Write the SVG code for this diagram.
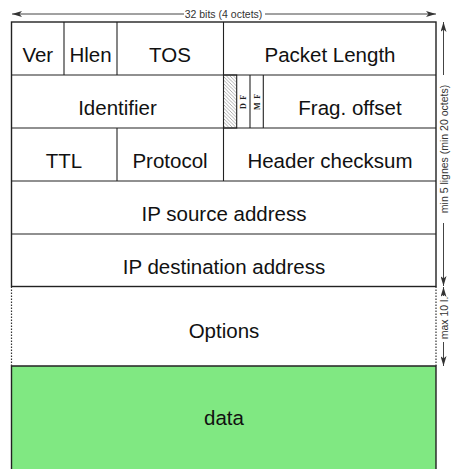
<svg xmlns="http://www.w3.org/2000/svg" width="455" height="469" viewBox="0 0 455 469">
  <defs>
    <style>
      .lbl { font-family: "Liberation Sans", Arial, sans-serif; font-size: 20.5px; fill: #111; text-anchor: middle; }
      .note { font-family: "Liberation Sans", Arial, sans-serif; font-size: 10.5px; fill: #333; text-anchor: middle; }
      .flag { font-family: "Liberation Serif", "Times New Roman", serif; font-size: 8px; font-weight: bold; fill: #222; text-anchor: middle; letter-spacing: 0.8px; }
      .frame { stroke: #222; stroke-width: 1.4; fill: none; }
      .cell { stroke: #222; stroke-width: 1.1; fill: none; }
      .hatched { stroke: #222; stroke-width: 1.1; fill: url(#hatch); }
      .dotted { stroke: #333; stroke-width: 1.2; stroke-dasharray: 1.5 1.5; fill: none; }
      .dim { stroke: #444; stroke-width: 1; fill: none; }
    </style>
    <marker id="ah" viewBox="0 0 10 6" refX="10" refY="3" markerWidth="10" markerHeight="6" markerUnits="userSpaceOnUse" orient="auto">
      <path d="M0,0 L10,3 L0,6 L2.5,3 Z" fill="#333"/>
    </marker>
    <pattern id="hatch" patternUnits="userSpaceOnUse" width="3.5" height="3.5">
      <path d="M0,0 L3.5,3.5 M-1,2.5 L1,4.5 M2.5,-1 L4.5,1" stroke="#777" stroke-width="0.6"/>
    </pattern>
  </defs>

  <!-- connectors: dimension arrows -->
  <g id="connectors">
    <line class="dim" x1="184" y1="14" x2="12" y2="14" marker-end="url(#ah)"/>
    <line class="dim" x1="265" y1="14" x2="436" y2="14" marker-end="url(#ah)"/>
    <line class="dim" x1="443.5" y1="75" x2="443.5" y2="22" marker-end="url(#ah)"/>
    <line class="dim" x1="443.5" y1="223" x2="443.5" y2="286" marker-end="url(#ah)"/>
    <line class="dim" x1="443.5" y1="296" x2="443.5" y2="287" marker-end="url(#ah)"/>
    <line class="dim" x1="443.5" y1="342" x2="443.5" y2="366" marker-end="url(#ah)"/>
  </g>

  <g id="width-label">
    <text class="note" x="223.5" y="18">32 bits (4 octets)</text>
  </g>
  <g id="height-labels">
    <text class="note" transform="translate(447.5,149) rotate(-90)">min 5 lignes (min 20 octets)</text>
    <text class="note" transform="translate(447.5,318) rotate(-90)">max 10 l.</text>
  </g>

  <!-- data block -->
  <g id="data">
    <path d="M11.5,475 V366 H436 V475" fill="#80e882" stroke="#222" stroke-width="1.4"/>
    <text class="lbl" x="224" y="425">data</text>
  </g>

  <!-- options block (dotted sides) -->
  <g id="options">
    <line class="dotted" x1="11.5" y1="286.5" x2="11.5" y2="366"/>
    <line class="dotted" x1="436" y1="286.5" x2="436" y2="366"/>
    <text class="lbl" x="224" y="338">Options</text>
  </g>

  <!-- fixed header frame -->
  <g id="header-frame">
    <rect class="frame" x="11.5" y="22" width="424.5" height="264.5"/>
    <line class="cell" x1="11.5" y1="75" x2="436" y2="75"/>
    <line class="cell" x1="11.5" y1="128" x2="436" y2="128"/>
    <line class="cell" x1="11.5" y1="181" x2="436" y2="181"/>
    <line class="cell" x1="11.5" y1="234" x2="436" y2="234"/>
  </g>

  <g id="ver">
    <text class="lbl" x="37.8" y="62">Ver</text>
  </g>
  <g id="hlen">
    <line class="cell" x1="64" y1="22" x2="64" y2="75"/>
    <text class="lbl" x="90.5" y="62">Hlen</text>
  </g>
  <g id="tos">
    <line class="cell" x1="117" y1="22" x2="117" y2="75"/>
    <text class="lbl" x="170" y="62">TOS</text>
  </g>
  <g id="packet-length">
    <line class="cell" x1="223.5" y1="22" x2="223.5" y2="75"/>
    <text class="lbl" x="330" y="62">Packet Length</text>
  </g>

  <g id="identifier">
    <text class="lbl" x="117.5" y="115">Identifier</text>
  </g>
  <g id="reserved-bit">
    <rect class="hatched" x="223.5" y="75" width="13.2" height="53"/>
  </g>
  <g id="df">
    <line class="cell" x1="250" y1="75" x2="250" y2="128"/>
    <text class="flag" transform="translate(246.2,101.5) rotate(-90)">D F</text>
  </g>
  <g id="mf">
    <line class="cell" x1="263.3" y1="75" x2="263.3" y2="128"/>
    <text class="flag" transform="translate(259.5,101.5) rotate(-90)">M F</text>
  </g>
  <g id="frag-offset">
    <text class="lbl" x="350" y="115">Frag. offset</text>
  </g>

  <g id="ttl">
    <text class="lbl" x="64" y="168">TTL</text>
  </g>
  <g id="protocol">
    <line class="cell" x1="117" y1="128" x2="117" y2="181"/>
    <text class="lbl" x="170" y="168">Protocol</text>
  </g>
  <g id="header-checksum">
    <line class="cell" x1="223.5" y1="128" x2="223.5" y2="181"/>
    <text class="lbl" x="330" y="168">Header checksum</text>
  </g>

  <g id="source-address">
    <text class="lbl" x="224" y="221">IP source address</text>
  </g>
  <g id="destination-address">
    <text class="lbl" x="224" y="274">IP destination address</text>
  </g>
</svg>
